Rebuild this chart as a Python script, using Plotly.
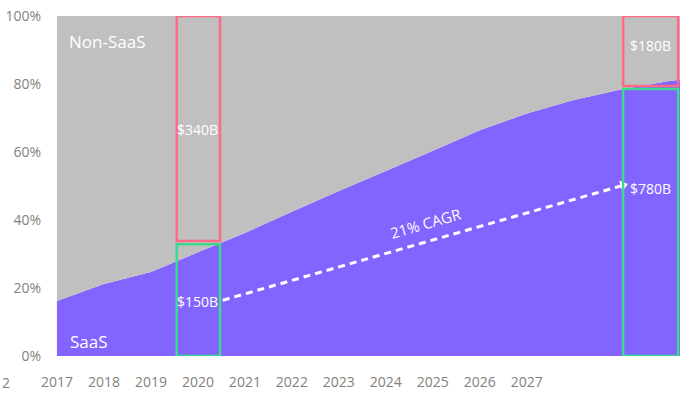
import plotly.graph_objects as go

# ---- data ----
years = [2017, 2018, 2019, 2020, 2021, 2022, 2023, 2024, 2025, 2026, 2027, 2028, 2029, 2030, 2031]
saas_share = [16.2, 21.2, 24.7, 30.5, 36.2, 42.4, 48.5, 54.4, 60.4, 66.4, 71.3, 75.3, 78.4, 80.8, 82.4]
non_saas_share = [100 - v for v in saas_share]

tick_years = [2017, 2018, 2019, 2020, 2021, 2022, 2023, 2024, 2025, 2026, 2027]
tick_labels = [str(y) for y in tick_years]
y_ticks = [0, 20, 40, 60, 80, 100]
y_labels = ["0%", "20%", "40%", "60%", "80%", "100%"]

# highlighted boxes: (x0, x1, y0, y1)
box_2020_non = (2019.55, 2020.47, 33.8, 100)
box_2020_saas = (2019.55, 2020.47, 0, 32.9)
box_2030_non = (2029.05, 2030.22, 79.4, 100)
box_2030_saas = (2029.05, 2030.22, 0, 78.5)

value_labels = ["$340B", "$150B", "$180B", "$780B"]
value_x = [2020.0, 2020.0, 2029.64, 2029.64]
value_y = [66.5, 15.9, 91.2, 49.4]

arrow_x = [2020.53, 2029.05]
arrow_y = [16.4, 50.2]
cagr_text = "21% CAGR"

PURPLE = "#8364ff"
GREY = "#c0c0c0"
RED = "#ff6a88"
GREEN = "#3fd88f"
AXIS_TXT = "#857f7a"
FONT = "Open Sans"

fig = go.Figure()
fig.add_trace(go.Scatter(x=years, y=saas_share, stackgroup="s", mode="none",
                         fillcolor=PURPLE, name="SaaS", hoverinfo="skip"))
fig.add_trace(go.Scatter(x=years, y=non_saas_share, stackgroup="s", mode="none",
                         fillcolor=GREY, name="Non-SaaS", hoverinfo="skip"))

# dashed CAGR arrow
fig.add_trace(go.Scatter(x=arrow_x, y=arrow_y, mode="lines",
                         line=dict(color="white", width=3, dash="7px,5px"),
                         hoverinfo="skip", showlegend=False))
fig.add_trace(go.Scatter(x=arrow_x, y=arrow_y, mode="markers",
                         marker=dict(symbol="triangle-up", size=[0, 10], angleref="previous",
                                     color="white", line=dict(width=0),
                                     opacity=[0, 1]),
                         hoverinfo="skip", showlegend=False))

for (x0, x1, y0, y1), col in [(box_2020_non, RED), (box_2020_saas, GREEN),
                              (box_2030_non, RED), (box_2030_saas, GREEN)]:
    fig.add_shape(type="rect", x0=x0, x1=x1, y0=y0, y1=y1, xref="x", yref="y",
                  line=dict(color=col, width=2.5), fillcolor="rgba(0,0,0,0)")

for t, x, y in zip(value_labels, value_x, value_y):
    fig.add_annotation(x=x, y=y, text=t, showarrow=False, yanchor="middle",
                       font=dict(family=FONT, size=14, color="white"))

fig.add_annotation(x=0.0176, y=0.926, xref="paper", yref="paper", text="Non-SaaS",
                   xanchor="left", yanchor="middle", showarrow=False,
                   font=dict(family=FONT, size=17, color="white"))
fig.add_annotation(x=0.0192, y=0.044, xref="paper", yref="paper", text="SaaS",
                   xanchor="left", yanchor="middle", showarrow=False,
                   font=dict(family=FONT, size=17, color="white"))
fig.add_annotation(x=2024.85, y=39.2, text=cagr_text, showarrow=False, textangle=-16,
                   font=dict(family=FONT, size=15, color="white"))
fig.add_annotation(x=-0.0897, y=-0.078, xref="paper", yref="paper", text="2",
                   xanchor="left", yanchor="middle", showarrow=False,
                   font=dict(family=FONT, size=14, color=AXIS_TXT))

fig.update_layout(
    width=692, height=395,
    margin=dict(l=56, r=12, t=16, b=39, autoexpand=False),
    paper_bgcolor="white", plot_bgcolor="white",
    showlegend=False,
    font=dict(family=FONT, size=14, color=AXIS_TXT),
    xaxis=dict(range=[2016.98, 2030.26], tickvals=tick_years, ticktext=tick_labels,
               showgrid=False, zeroline=False, showline=False, ticks="", automargin=False,
               ticklabelstandoff=16, tickfont=dict(family=FONT, size=14, color=AXIS_TXT)),
    yaxis=dict(range=[0, 100], tickvals=y_ticks, ticktext=y_labels, automargin=False,
               showgrid=False, zeroline=False, showline=False, ticks="",
               ticklabelstandoff=14, tickfont=dict(family=FONT, size=14, color=AXIS_TXT)),
)

fig.write_html("out.html", config={"displayModeBar": False},
               post_script="document.body.style.margin='0';document.body.style.padding='0';")
